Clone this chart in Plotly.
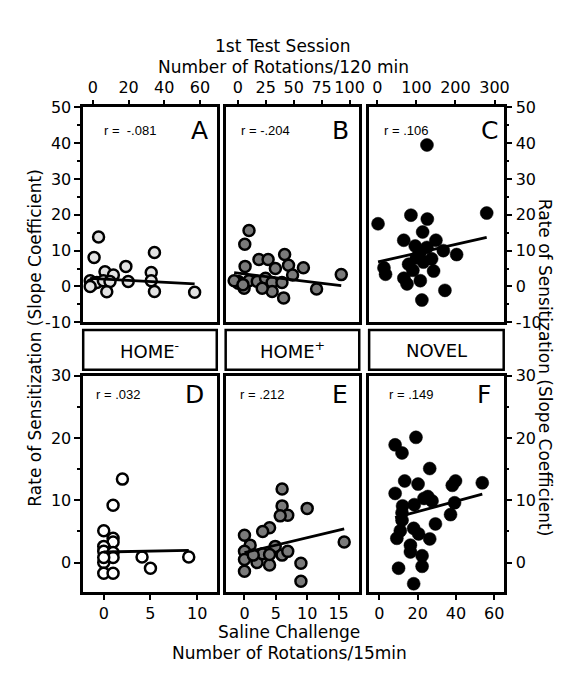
import plotly.graph_objects as go

W, H = 567, 681

# ---------------- data ----------------
a_x = [3.2, 0.7, 34.5, 18.5, 32.7, 6.8, 11.5, -1.5, -0.5, 2.2, 5.9, 9.6, 19.8, 7.8, 34.5, 32.7, 57, -1.5]
a_y = [13.8, 8.1, 9.5, 5.6, 3.9, 4.1, 3.2, 1.6, 0.5, 1.1, 1.6, 1.4, 1.4, -1.5, -1.4, 1.6, -1.6, 0]

b_x = [10, 6.2, 18.9, 27.1, 41.9, 6.5, 45.4, 58.7, 33.6, 49, 92.6, 0.6, 0.4, 5.6, 10, 17.4, 24.8,
       30.7, 39.5, 30.7, 41, 70.5, -3.3, 4.6, 21.8]
b_y = [15.6, 11.8, 7.5, 7.5, 8.9, 5.6, 5.9, 5.2, 5.0, 3.2, 3.3, 1.4, 0.9, -0.5, 1.6, 1.4, 2.3,
       1.1, 1.1, -1.4, -3.2, -0.7, 1.6, 0.5, -0.5]

c_x = [1.8, 86, 128, 280, 116, 67.6, 150, 97, 127, 169, 203, 108, 139, 118, 80, 144, 17, 21, 68,
       76, 110, 173, 114, 127, 91, 100]
c_y = [17.5, 19.9, 18.8, 20.5, 15.2, 12.9, 12.9, 11.3, 10.9, 10, 8.9, 9, 7.7, 6.8, 6.2, 4.3, 5.2,
       3.4, 2.3, 0.7, 1.6, -1.1, -3.8, 39.5, 4.5, 8]

d_x = [2.0, 1.0, 0, 1.0, 1.0, 0, 0, 1.0, 0, 0, 1, 4.1, 5.0, 9.1, 1, 0]
d_y = [13.4, 9.2, 5.1, 3.9, 3.3, 2.6, 1.8, 1.6, 0, -1.7, -1.7, 0.9, -0.9, 0.9, 0.8, 0.8]

e_x = [6.0, 6.0, 6.9, 5.7, 10, 4.0, 2.9, 0, 0.9, 0, 0, 0, 2, 2.9, 4.0, 4.9, 6.0, 6.9, 9.0, 9.0,
       15.9, 1.4, 4]
e_y = [11.8, 9.1, 7.6, 7.5, 8.7, 5.6, 5.0, 4.4, 2.8, 1.8, 0.5, -1.4, 0, 1.4, -0.4, 2.6, 1.2, 1.8,
       -0.1, -3.0, 3.3, 1.2, 1.3]

f_x = [8.2, 11.8, 19.1, 26.3, 13.2, 20.2, 8.2, 12.1, 18.2, 25.3, 27.5, 38.1, 39.8, 53.8, 39.3,
       37.2, 11.8, 29.3, 10.9, 9.1, 17.9, 20.5, 26.3, 16.2, 16.2, 22.3, 22.3, 10, 17.9, 23.3, 11.8]
f_y = [18.9, 17.6, 20.1, 15.1, 13.1, 12.6, 11.1, 9.1, 9.3, 10.6, 9.9, 12.4, 13.1, 12.8, 9.6, 7.7,
       6.8, 6.2, 5.1, 3.9, 5.5, 4.6, 3.8, 2.8, 1.7, 1.1, -0.6, -0.9, -3.4, 10.3, 8]

panel_letters = ["A", "B", "C", "D", "E", "F"]
r_labels = ["r =  -.081", "r = -.204", "r = .106", "r = .032", "r = .212", "r = .149"]
fit_slopes = [-0.026, -0.038, 0.0247, 0.027, 0.24, 0.083]
fit_intercepts = [2.21, 3.73, 6.8, 1.7, 1.6, 6.52]
group_labels = ["HOME<sup>-</sup>", "HOME<sup>+</sup>", "NOVEL"]

top_ticks = [[0, 20, 40, 60], [0, 25, 50, 75, 100], [0, 100, 200, 300]]
bottom_ticks = [[0, 5, 10], [0, 5, 10, 15], [0, 20, 40, 60]]
top_y_ticks = [-10, 0, 10, 20, 30, 40, 50]
bottom_y_ticks = [0, 10, 20, 30]

# ---------------- layout geometry (pixels) ----------------
col_px = [(76, 211), (220, 355), (365, 501)]
top_row_px = (93, 314)
bot_row_px = (369, 592)
x_ranges = [[-5.4, 69.4], [-10.9, 108.7], [-21, 323.5],
            [-2.2, 12.1], [-3.0, 18.3], [-5.4, 65]]
y_top_range = [-10, 50]
y_bot_range = [-4.8, 30]


def fx(p):
    return p / W


def fy(p):
    return 1 - p / H


FONT = "DejaVu Sans"
series = [(a_x, a_y), (b_x, b_y), (c_x, c_y), (d_x, d_y), (e_x, e_y), (f_x, f_y)]
fills = ["#e2e2e2", "#7a7a7a", "black", "white", "#7a7a7a", "black"]

fig = go.Figure()
for i, (xs, ys) in enumerate(series):
    sfx = "" if i == 0 else str(i + 1)
    xa, ya = "x" + sfx, "y" + sfx
    solid = fills[i] == "black"
    fig.add_trace(go.Scatter(
        x=xs, y=ys, mode="markers", xaxis=xa, yaxis=ya, showlegend=False,
        marker=dict(size=13 if solid else 11, color=fills[i],
                    line=dict(color="black", width=0.5 if solid else 2.5)),
    ))
    x0, x1 = min(xs), max(xs)
    m, b = fit_slopes[i], fit_intercepts[i]
    fig.add_trace(go.Scatter(
        x=[x0, x1], y=[m * x0 + b, m * x1 + b], mode="lines", xaxis=xa, yaxis=ya,
        showlegend=False, line=dict(color="black", width=2.8),
    ))

layout = dict(
    width=W, height=H, margin=dict(l=0, r=0, t=0, b=0),
    paper_bgcolor="white", plot_bgcolor="white",
    font=dict(family=FONT, size=16, color="black"),
)

for i in range(6):
    sfx = "" if i == 0 else str(i + 1)
    col = i % 3
    top = i < 3
    cx0, cx1 = col_px[col]
    ry0, ry1 = top_row_px if top else bot_row_px
    xkey, ykey = "xaxis" + sfx, "yaxis" + sfx
    ticks = top_ticks[col] if top else bottom_ticks[col]
    layout[xkey] = dict(
        domain=[fx(cx0), fx(cx1)], range=x_ranges[i], anchor="y" + sfx,
        side="top" if top else "bottom",
        showgrid=False, zeroline=False, showline=True, mirror=True,
        linecolor="black", linewidth=2.5,
        ticks="outside", ticklen=5, tickwidth=2, tickcolor="black",
        tickvals=ticks, ticktext=[str(t) for t in ticks],
        tickfont=dict(size=16, family=FONT),
    )
    yt = top_y_ticks if top else bottom_y_ticks
    yd = dict(
        domain=[fy(ry1), fy(ry0)], range=y_top_range if top else y_bot_range,
        anchor="x" + sfx,
        showgrid=False, zeroline=False, showline=True, mirror=True,
        linecolor="black", linewidth=2.5,
        tickfont=dict(size=16, family=FONT),
    )
    if col == 1:
        yd.update(showticklabels=False, ticks="")
    else:
        yd.update(side="left" if col == 0 else "right",
                  ticks="outside", ticklen=6, tickwidth=2, tickcolor="black",
                  tickvals=yt, ticktext=[str(t) for t in yt],
                  minor=dict(dtick=5, ticks="outside", ticklen=3, tickwidth=2, tickcolor="black"))
    layout[ykey] = yd

fig.update_layout(**layout)

ann = []
shapes = []
for i in range(6):
    col = i % 3
    top = i < 3
    cx0, cx1 = col_px[col]
    ry0, ry1 = top_row_px if top else bot_row_px
    r_off = [19, 13, 13][col] if top else [11, 12, 18][col]
    letter_off = [7, 8, 4][col] if top else [11, 9, 11][col]
    ytxt = ry0 + 24 if top else ry0 + 19
    ann.append(dict(x=fx(cx0 + r_off), y=fy(ytxt), xref="paper", yref="paper",
                    text=r_labels[i], showarrow=False, xanchor="left", yanchor="middle",
                    font=dict(size=13, family="Liberation Sans")))
    ann.append(dict(x=fx(cx1 - letter_off), y=fy(ytxt), xref="paper", yref="paper",
                    text=panel_letters[i], showarrow=False, xanchor="right", yanchor="middle",
                    font=dict(size=25, family=FONT)))

# group label boxes
for col in range(3):
    cx0, cx1 = col_px[col]
    shapes.append(dict(type="rect", xref="paper", yref="paper",
                       x0=fx(cx0), x1=fx(cx1), y0=fy(363), y1=fy(322),
                       line=dict(color="black", width=2.5), fillcolor="white"))
    ann.append(dict(x=fx((cx0 + cx1) / 2), y=fy(343), xref="paper", yref="paper",
                    text=group_labels[col], showarrow=False, xanchor="center", yanchor="middle",
                    font=dict(size=18, family=FONT)))

# axis titles
ann += [
    dict(x=fx(278), y=fy(18), xref="paper", yref="paper", text="1st Test Session",
         showarrow=False, font=dict(size=17, family=FONT)),
    dict(x=fx(278), y=fy(39), xref="paper", yref="paper", text="Number of Rotations/120 min",
         showarrow=False, font=dict(size=17, family=FONT)),
    dict(x=fx(284), y=fy(645), xref="paper", yref="paper", text="Saline Challenge",
         showarrow=False, font=dict(size=17, family=FONT)),
    dict(x=fx(285), y=fy(667), xref="paper", yref="paper", text="Number of Rotations/15min",
         showarrow=False, font=dict(size=17, family=FONT)),
    dict(x=fx(15), y=fy(330), xref="paper", yref="paper",
         text="Rate of Sensitization (Slope Coefficient)", textangle=-90,
         showarrow=False, font=dict(size=17, family=FONT)),
    dict(x=fx(555), y=fy(360), xref="paper", yref="paper",
         text="Rate of Sensitization (Slope Coefficient)", textangle=90,
         showarrow=False, font=dict(size=17, family=FONT)),
]

fig.update_layout(annotations=ann, shapes=shapes)
fig.write_html("out.html")
